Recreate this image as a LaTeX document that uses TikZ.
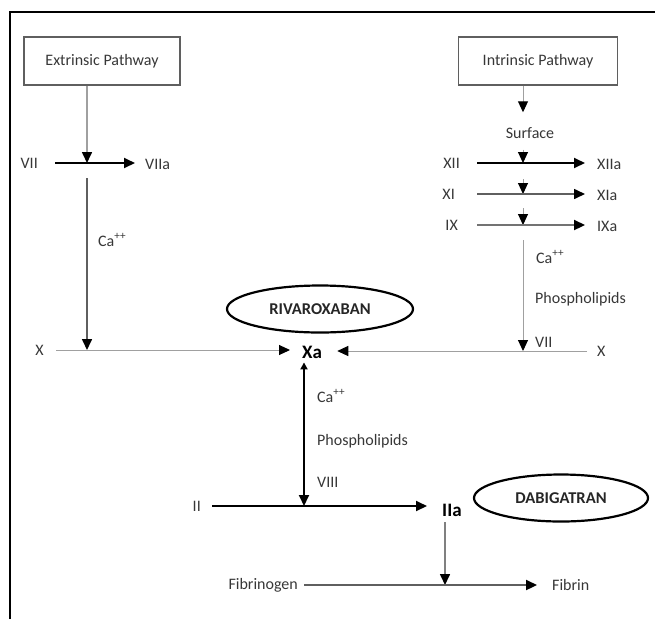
\documentclass[tikz,border=0pt]{standalone}
\usepackage{fontspec}
\setmainfont{Carlito}
\usetikzlibrary{arrows.meta,positioning,shapes.geometric}
\definecolor{cascText}{RGB}{55,55,55}
\definecolor{cascMid}{RGB}{95,95,95}
\definecolor{cascLight}{RGB}{160,160,160}

\begin{document}
\begin{tikzpicture}[x=1pt,y=-1pt,
  lbl/.style={text=cascText, font=\fontsize{16}{18}\selectfont, inner sep=0pt},
  big/.style={lbl, font=\bfseries\fontsize{19}{21}\selectfont, text=black},
  pathbox/.style={draw=cascMid, line width=1.2pt, minimum width=156pt, minimum height=48pt, inner sep=0pt, text=cascText, font=\fontsize{16}{18}\selectfont},
  drug/.style={ellipse, draw=black, line width=2.2pt, minimum width=186pt, minimum height=47pt, inner sep=0pt, text=black!85, font=\bfseries\fontsize{16.5}{18}\selectfont},
  heavy/.style={draw=black, line width=1.9pt},
  mid/.style={draw=cascMid, line width=1.6pt},
  light/.style={draw=cascLight, line width=1pt},
  tip/.style={-{Triangle[length=11pt,width=10pt,color=black]}},
]
\useasboundingbox (0,0) rectangle (655,619);
\draw[line width=2.8pt] (10,619) -- (10,12) -- (655,12);
\coordinate (ecol) at (87,0);
\coordinate (icol) at (523,0);
\node[pathbox] (ext) at (102,61) {Extrinsic Pathway};
\node[pathbox, minimum width=159pt] (int) at (538,61) {Intrinsic Pathway};
\node[lbl, anchor=east] (vii) at (38,163) {VII};
\node[lbl, anchor=west] (viia) at (145,164) {VIIa};
\node[lbl, anchor=west] (ca1) at (98,240) {Ca\textsuperscript{++}};
\node[lbl, anchor=east] (xl) at (44,350) {X};
\node[big, anchor=west] (xa) at (302,352) {Xa};
\node[lbl, anchor=west] (xr) at (597,351) {X};
\node[drug] (riva) at (320,309) {RIVAROXABAN};
\node[lbl] (surf) at (530,133) {Surface};
\node[lbl, anchor=east] (xii) at (460,163) {XII};
\node[lbl, anchor=west] (xiia) at (597,164) {XIIa};
\node[lbl, anchor=east] (xi) at (455,194) {XI};
\node[lbl, anchor=west] (xia) at (597,195) {XIa};
\node[lbl, anchor=east] (ix) at (458,225) {IX};
\node[lbl, anchor=west] (ixa) at (597,226) {IXa};
\node[lbl, anchor=west] (ca2) at (536,257) {Ca\textsuperscript{++}};
\node[lbl, anchor=west] (pl1) at (535,299) {Phospholipids};
\node[lbl, anchor=west] (vii2) at (535,342) {VII};
\node[lbl, anchor=west] (ca3) at (317,396) {Ca\textsuperscript{++}};
\node[lbl, anchor=west] (pl2) at (317,441) {Phospholipids};
\node[lbl, anchor=west] (viii) at (317,482) {VIII};
\node[lbl, anchor=east] (ii) at (201,506) {II};
\node[big, anchor=west] (iia) at (442,510) {IIa};
\node[drug, minimum width=174pt] (dabi) at (561,498) {DABIGATRAN};
\node[lbl, anchor=east] (fgen) at (298,585) {Fibrinogen};
\node[lbl, anchor=west] (fib) at (552,585) {Fibrin};

\draw[mid, draw=cascLight, tip] (ext.south -| ecol) -- (ecol |- vii);
\draw[heavy, tip, shorten <=17pt, shorten >=10pt] (vii) -- (vii -| viia.west);
\draw[mid, tip] ([yshift=-15pt]ecol |- vii) -- (ecol |- xl);
\draw[light, tip, shorten <=12pt, shorten >=12pt] (xl) -- (xl -| xa.west);
\draw[light, tip, shorten <=10pt, shorten >=15pt] (xr) -- (xr -| xa.east);

\draw[light, tip, shorten >=15pt] (int.south -| icol) -- (icol |- surf.north);
\draw[light, tip, shorten <=11pt] (icol |- surf.south) -- (icol |- xii);
\draw[heavy, tip, shorten <=17pt, shorten >=12pt] (xii) -- (xii -| xiia.west);
\draw[light, tip] ([yshift=15pt]icol |- xi) -- (icol |- xi);
\draw[mid, tip, shorten <=22pt, shorten >=12pt] (xi) -- (xi -| xia.west);
\draw[light, tip] ([yshift=17pt]icol |- ix) -- (icol |- ix);
\draw[mid, line width=2.2pt, draw=black!55, tip, shorten <=19pt, shorten >=12pt] (ix) -- (ix -| ixa.west);
\draw[light, tip] ([yshift=-15pt]icol |- ix) -- (icol |- xr);

\draw[heavy, {Triangle[length=7pt,width=7pt]}-{Triangle[length=11pt,width=10pt]}, shorten <=4pt] ([xshift=2pt]xa.south west) -- ([xshift=2pt]xa.south west |- ii);
\draw[heavy, tip, shorten <=11pt, shorten >=15pt] (ii) -- (ii -| iia.west);
\draw[mid, draw=black!50, tip, shorten <=6pt] ([xshift=3pt]iia.south west) -- ([xshift=3pt]iia.south west |- fgen);
\draw[mid, line width=2.2pt, tip, shorten <=6pt, shorten >=15pt] (fgen) -- (fgen -| fib.west);
\end{tikzpicture}
\end{document}
